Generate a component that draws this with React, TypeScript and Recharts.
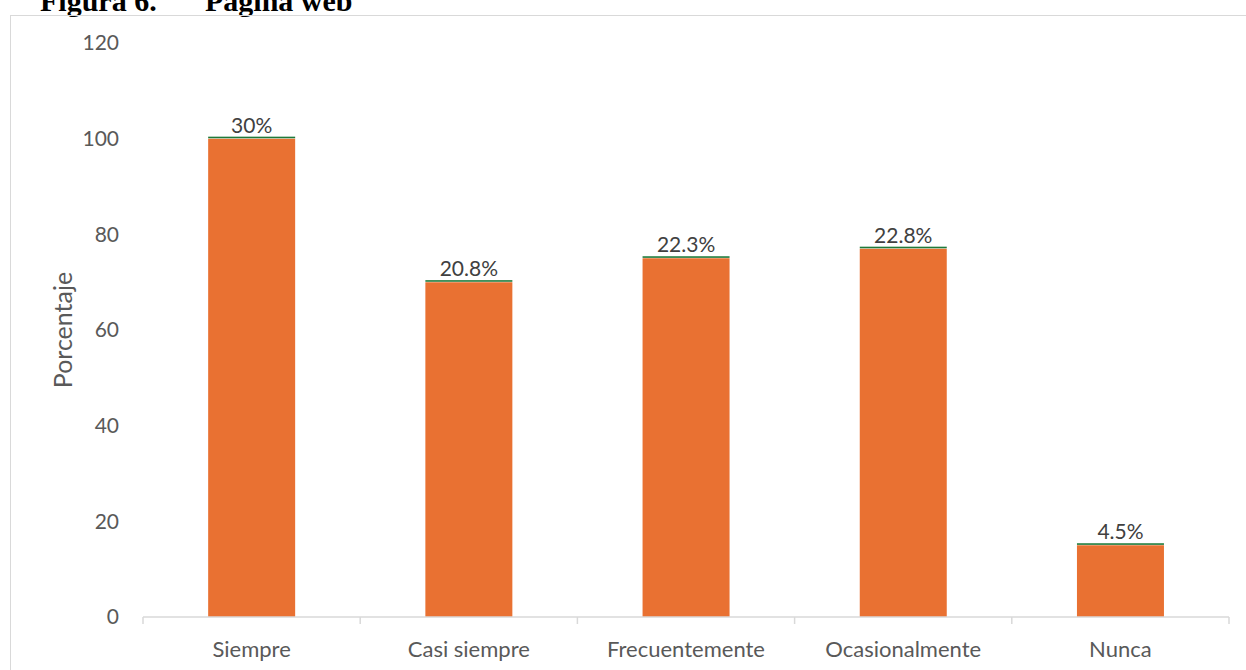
import React from 'react';
import {BarChart, Bar, XAxis, YAxis, LabelList, Rectangle} from 'recharts';

const categories = ['Siempre', 'Casi siempre', 'Frecuentemente', 'Ocasionalmente', 'Nunca'];
const counts = [100, 70, 75, 77, 15];
const percentLabels = ['30%', '20.8%', '22.3%', '22.8%', '4.5%'];
const yTicks = [0, 20, 40, 60, 80, 100, 120];

const data = categories.map((name, i) => ({name, value: counts[i], pct: percentLabels[i]}));

const FONT = 'Lato, "Noto Sans", sans-serif';
const ORANGE = '#E97132';
const GREEN = '#1F7A3A';
const GREY = '#D9D9D9';

const BarWithTop = (props: any) => {
  const {x, y, width, height} = props;
  return (
    <g>
      <Rectangle x={x} y={y} width={width} height={height} fill={ORANGE} />
      <rect x={x} y={y - 2} width={width} height={1.6} fill={GREEN} />
    </g>
  );
};

const CategoryTick = (props: any) => {
  const {x, y, payload, index} = props;
  const half = payload.offset ?? 0;
  const last = index === categories.length - 1;
  return (
    <g>
      <line x1={x - half} x2={x - half} y1={y} y2={y + 7} stroke={GREY} strokeWidth={1.5} />
      {last && <line x1={x + half} x2={x + half} y1={y} y2={y + 7} stroke={GREY} strokeWidth={1.5} />}
      <text x={x} y={y + 40} textAnchor="middle" fill="#595959" fontSize={22} fontFamily={FONT}>
        {payload.value}
      </text>
    </g>
  );
};

export default function App() {
  const titleStyle: React.CSSProperties = {
    position: 'absolute',
    top: -16,
    fontFamily: '"Liberation Serif", "Times New Roman", serif',
    fontWeight: 'bold',
    fontSize: 30,
    whiteSpace: 'pre',
    color: '#000',
  };
  return (
    <div style={{position: 'absolute', left: 0, top: 0, width: 1246, height: 670, overflow: 'hidden', background: '#fff'}}>
      <div style={{...titleStyle, left: 40}}>Figura 6.</div>
      <div style={{...titleStyle, left: 205}}>Página web</div>
      <div style={{position: 'absolute', left: 10, top: 15, width: 1240, height: 700, border: `1.5px solid ${GREY}`, boxSizing: 'border-box'}} />
      <div style={{position: 'absolute', left: 0, top: 0}}>
        <BarChart width={1246} height={670} data={data} margin={{top: 43, right: 17, bottom: 0, left: 0}} barCategoryGap="30%">
          <XAxis
            dataKey="name"
            height={53}
            axisLine={{stroke: GREY, strokeWidth: 1.5}}
            tickLine={false}
            tickSize={0}
            tickMargin={0}
            interval={0}
            tick={<CategoryTick />}
          />
          <YAxis
            width={143}
            domain={[0, 120]}
            ticks={yTicks}
            axisLine={false}
            tickLine={false}
            tickSize={0}
            tickMargin={24}
            tick={{fill: '#595959', fontSize: 21, fontFamily: FONT}}
            label={{
              content: (p: any) => {
                const vb = p.viewBox;
                const cx = vb.x + 62;
                const cy = vb.y + vb.height / 2;
                return (
                  <text x={cx} y={cy} transform={`rotate(-90 ${cx} ${cy})`} textAnchor="middle" dominantBaseline="central" fill="#595959" fontSize={25} fontFamily={FONT}>
                    Porcentaje
                  </text>
                );
              },
            }}
          />
          <Bar dataKey="value" shape={<BarWithTop />} isAnimationActive={false}>
            <LabelList dataKey="pct" position="top" offset={6} fill="#404040" fontSize={21} fontFamily={FONT} />
          </Bar>
        </BarChart>
      </div>
    </div>
  );
}
